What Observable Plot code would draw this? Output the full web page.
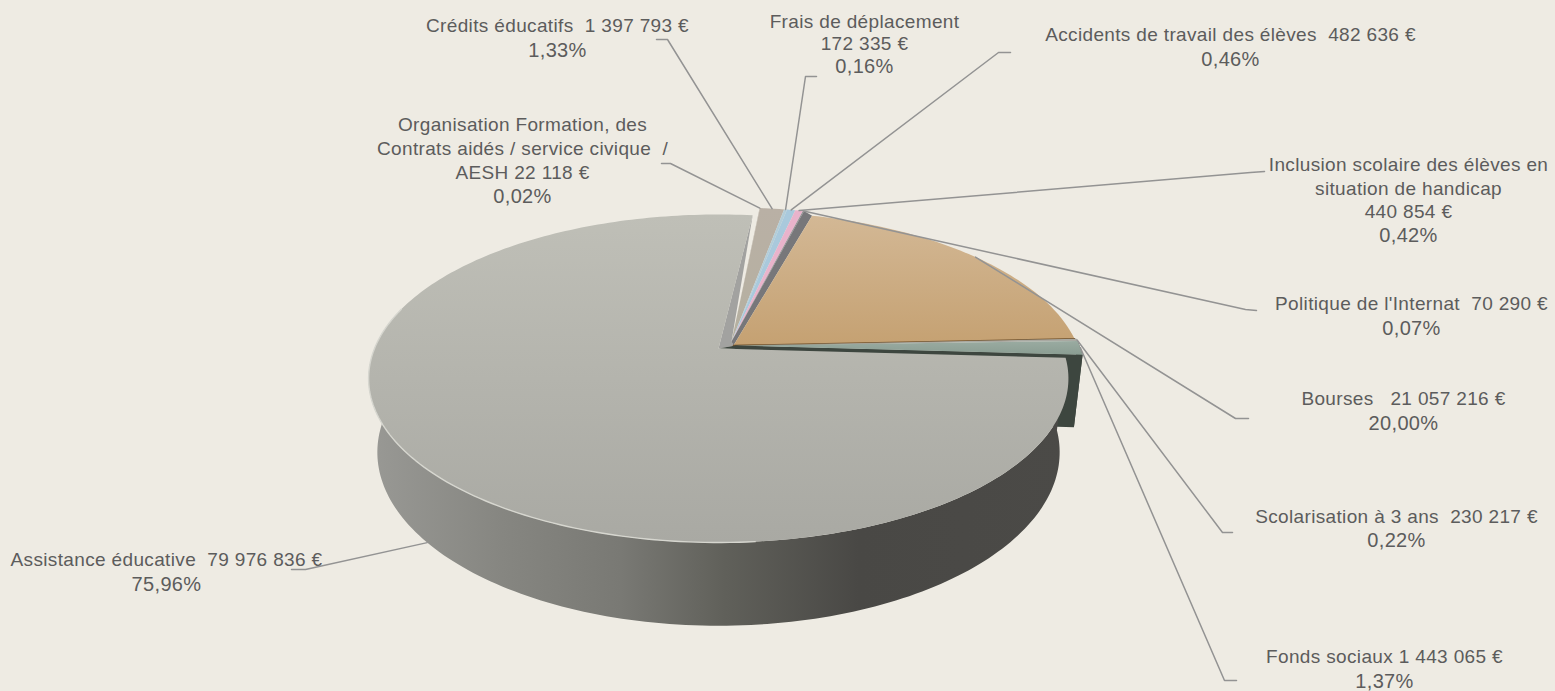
<!DOCTYPE html>
<html><head><meta charset="utf-8">
<script src="https://cdn.jsdelivr.net/npm/d3@7"></script>
<script src="https://cdn.jsdelivr.net/npm/@observablehq/plot@0.6"></script>
<style>
html,body{margin:0;padding:0;background:#eeebe3;overflow:hidden}
svg{display:block}
svg text{letter-spacing:.35px}
</style></head><body><div id="chart"></div>
<script>
// DATA
const categories = ["Assistance éducative","Organisation Formation","Crédits éducatifs","Frais de déplacement","Accidents de travail des élèves","Inclusion scolaire","Politique de l'Internat","Bourses","Scolarisation à 3 ans","Fonds sociaux"];
const amounts = [79976836,22118,1397793,172335,482636,440854,70290,21057216,230217,1443065];
const labelLines = [
 ["Assistance éducative  79 976 836 €","75,96%"],
 ["Organisation Formation, des","Contrats aidés / service civique  /","AESH 22 118 €","0,02%"],
 ["Crédits éducatifs  1 397 793 €","1,33%"],
 ["Frais de déplacement","172 335 €","0,16%"],
 ["Accidents de travail des élèves  482 636 €","0,46%"],
 ["Inclusion scolaire des élèves en","situation de handicap","440 854 €","0,42%"],
 ["Politique de l'Internat  70 290 €","0,07%"],
 ["Bourses   21 057 216 €","20,00%"],
 ["Scolarisation à 3 ans  230 217 €","0,22%"],
 ["Fonds sociaux 1 443 065 €","1,37%"]
];
// LAYOUT
const W=1555,H=691;
const labelX=[166,522,557,864,1230,1408,1411,1403,1396,1384];
const labelY=[[559,584],[124,148,172,196],[25,50],[21,43,66],[34,59],[164,188,211,235],[303,328],[398,423],[516,540],[656,681]];
const elbows=[[[291,569],[305,569]],[[661,163],[670,163]],[[656,39],[667,39]],[[816,76],[805,76]],[[1010,52],[998,52]],[[1264,171],[1250,172]],[[1256,310],[1245,309]],[[1248,418],[1235,418]],[[1232,532],[1222,532]],[[1236,680],[1224,680]]];
const centers=[[718,348],[731,341],[731,341],[731,341],[731,341],[731,341],[731,341],[733,345],[735,345],[735,345]];
const fills=["url(#gTop)","#b9b0a5","url(#gCredit)","#b3cdd8","#a9c9dc","#e9b3cb","#8f8f92","url(#gOrange)","#a9a9a2","url(#gGreen)"];
const startDeg=93.3, R=344, HY=158.5, K=0.183, D=72, SH=0.025, toRad=Math.PI/180, smallTurn=-1.2*toRad;

// geometry through a perspective projection of the pie computed by d3.pie
const arcs=d3.pie().sort(null).startAngle(startDeg*toRad).endAngle((startDeg+360)*toRad)(amounts)
  .map((a,i)=>i>=1&&i<=6?{...a,startAngle:a.startAngle+smallTurn,endAngle:a.endAngle+smallTurn}:a);
function proj(c,th,rad=1,depth=0){
  const u=Math.sin(th)*rad,v=-Math.cos(th)*rad,den=1-K*v,s=1-SH*depth;
  return {x:c[0]+R*u*s/den,y:c[1]+(HY*v*s+D*depth)/den};
}
const sample=(a,b,n=Math.max(2,Math.ceil(Math.abs(b-a)/0.02)))=>d3.range(n+1).map(i=>a+(b-a)*i/n);
const topFace=i=>[proj(centers[i],0,0),...sample(arcs[i].startAngle,arcs[i].endAngle).map(t=>proj(centers[i],t))];
const wall=(i,a,b)=>[...sample(a,b).map(t=>proj(centers[i],t)),...sample(b,a).map(t=>proj(centers[i],t,1,1))];
const poly=(pts,fill,extra={})=>Plot.line(pts,{x:"x",y:"y",curve:"linear-closed",fill,stroke:"none",...extra});

const G=0,CR=2,BO=7,SC=8,GR=9;
const gEnd=arcs[G].endAngle,gStart=arcs[G].startAngle;
const marks=[];
// gradient definitions
marks.push(()=>{
  const defs=d3.create("svg:defs");
  const grad=(id,x2,y2,stops)=>{const g=defs.append("linearGradient").attr("id",id).attr("x1",0).attr("y1",0).attr("x2",x2).attr("y2",y2);
    stops.forEach(([o,c])=>g.append("stop").attr("offset",o).attr("stop-color",c));};
  grad("gTop",0,1,[[0,"#bfbfb7"],[1,"#a9a9a3"]]);
  grad("gWall",1,0,[[0,"#999995"],[.19,"#868681"],[.36,"#797974"],[.51,"#60605a"],[.7,"#494845"],[1,"#4b4a47"]]);
  grad("gOrange",0,1,[[0,"#d3b895"],[1,"#c5a172"]]);
  grad("gGreen",0,1,[[0,"#9aaba1"],[1,"#8a9d92"]]);
  grad("gCredit",0,1,[[0,"#b9b0a5"],[1,"#b5b0a0"]]);
  return defs.node();
});
// cut face seen between the large slice and the small ones
marks.push(poly([proj(centers[G],0,0),proj(centers[G],gEnd),proj(centers[CR],0,0),proj(centers[BO],0,0),proj(centers[GR],0,0)],"#a2a2a0"));
// small slices
[1,2,3,4,5,6].forEach(i=>marks.push(poly(topFace(i),fills[i])));
// cut face between small slices and Bourses
marks.push(poly([proj(centers[6],0,0),proj(centers[6],arcs[6].endAngle),proj(centers[BO],arcs[BO].startAngle),proj(centers[BO],0,0)],"#77777a"));
// Bourses
marks.push(poly(topFace(BO),fills[BO]));
marks.push(Plot.line([proj(centers[BO],0,0),proj(centers[BO],arcs[BO].endAngle)],{x:"x",y:"y",stroke:"#74552f",strokeWidth:1.6}));
// right slices: walls then tops
marks.push(poly(wall(GR,arcs[GR].startAngle,arcs[GR].endAngle),"#3d463f"));
marks.push(poly([proj(centers[GR],arcs[GR].endAngle),proj(centers[GR],arcs[GR].endAngle,1,1),proj(centers[GR],0,0,1),proj(centers[GR],0,0)],"#3d463f"));
marks.push(poly([proj(centers[GR],0,0),proj(centers[GR],arcs[GR].endAngle),proj(centers[G],gStart),proj(centers[G],0,0)],"#3d463f"));
marks.push(poly(topFace(SC),fills[SC]));
marks.push(poly(topFace(GR),fills[GR]));
// large slice
marks.push(poly(wall(G,gStart,285*toRad),"url(#gWall)"));
marks.push(poly(topFace(G),fills[G]));
marks.push(Plot.line(sample(175*toRad,285*toRad),{x:t=>proj(centers[G],t).x,y:t=>proj(centers[G],t).y,stroke:"#d6d6cf",strokeWidth:1.4}));
// leader lines
const leaderPts=arcs.flatMap((a,i)=>{
  const mid=(a.startAngle+a.endAngle)/2;
  const end=proj(centers[i],mid,1,i===G?1:0);
  return [...elbows[i].map(([x,y])=>({i,x,y})),{i,...end}];
});
marks.push(Plot.line(leaderPts,{x:"x",y:"y",z:"i",stroke:"#939393",strokeWidth:1.5}));
// labels
const rows=labelLines.flatMap((ls,i)=>ls.map((text,j)=>({text,x:labelX[i],y:labelY[i][j]})));
const isPct=d=>d.text.endsWith("%");
const textMark=(data,fontSize)=>Plot.text(data,{x:"x",y:"y",text:"text",fill:"#5c5c5c",fontSize,fontFamily:"'Liberation Sans',Arial,sans-serif",textAnchor:"middle",lineAnchor:"middle"});
marks.push(textMark(rows.filter(d=>!isPct(d)),19));
marks.push(textMark(rows.filter(isPct),20));

const chart=Plot.plot({width:W,height:H,margin:0,
  x:{domain:[0,W],range:[0,W],axis:null},y:{domain:[0,H],range:[0,H],axis:null},
  style:{background:"#eeebe3"},marks});
document.getElementById("chart").append(chart);
</script></body></html>
